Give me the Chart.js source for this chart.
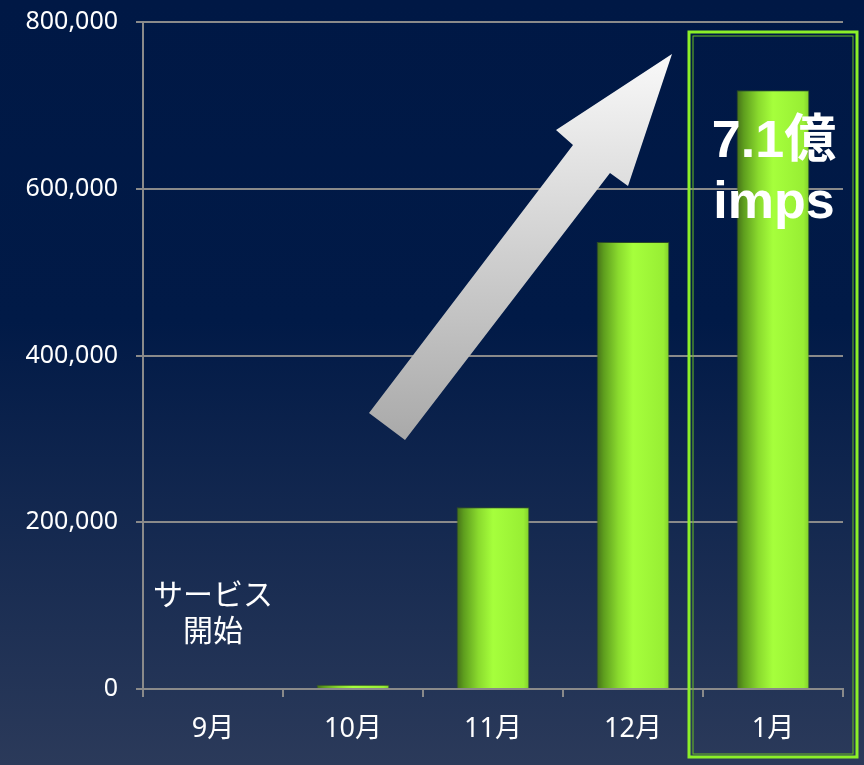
<!DOCTYPE html>
<html lang="ja">
<head>
  <meta charset="UTF-8" />
  <title>imps推移</title>
  <script src="https://cdn.jsdelivr.net/npm/chart.js"></script>
  <style>
    * { margin: 0; padding: 0; box-sizing: border-box; }
    body {
      width: 864px;
      height: 765px;
      overflow: hidden;
      background: linear-gradient(to bottom, #001845 0%, #011a47 42%, #2b3a5a 100%);
    }
    .wrap { position: relative; width: 864px; height: 765px; }
  </style>
</head>
<body>
  <div class="wrap">
    <canvas id="impsChart" width="864" height="765"></canvas>
  </div>

  <script>
    // data
    const months = ['9月', '10月', '11月', '12月', '1月'];
    const imps = [0, 5000, 218000, 536000, 718000];
    const yTicks = [0, 200000, 400000, 600000, 800000];
    const startNote = ['サービス', '開始'];
    const callout = ['7.1億', 'imps'];
    const highlightIndex = 4;

    const JP = '"Noto Sans CJK JP", "Noto Sans", sans-serif';
    const LATIN = '"Noto Sans", "Noto Sans CJK JP", sans-serif';

    // cylinder-ish horizontal gradient for each bar
    function barFill(context) {
      const chart = context.chart;
      const area = chart.chartArea;
      if (!area || !chart.scales.x) return '#9ef23a';
      const xs = chart.scales.x;
      const cx = xs.getPixelForValue(context.dataIndex);
      const half = (xs.width / months.length) * 0.52 / 2;
      const g = chart.ctx.createLinearGradient(cx - half, 0, cx + half, 0);
      g.addColorStop(0, '#456f18');
      g.addColorStop(0.1, '#5e9e1e');
      g.addColorStop(0.3, '#8ada2e');
      g.addColorStop(0.5, '#a6ff3c');
      g.addColorStop(0.92, '#98ee34');
      g.addColorStop(1, '#80cc2a');
      return g;
    }

    const overlay = {
      id: 'overlay',
      afterDatasetsDraw(chart) {
        const { ctx, scales: { x } } = chart;
        ctx.save();

        // big rising arrow
        const g = ctx.createLinearGradient(0, 54, 0, 440);
        g.addColorStop(0, '#f9f9f9');
        g.addColorStop(1, '#a9a9a9');
        ctx.fillStyle = g;
        ctx.beginPath();
        ctx.moveTo(369, 413);
        ctx.lineTo(573, 145);
        ctx.lineTo(556, 130);
        ctx.lineTo(672, 54);
        ctx.lineTo(628, 186);
        ctx.lineTo(610, 173);
        ctx.lineTo(405, 440);
        ctx.closePath();
        ctx.fill();

        // highlight box round the last month
        const cx = x.getPixelForValue(highlightIndex);
        ctx.strokeStyle = '#8cf028';
        ctx.lineWidth = 3;
        ctx.strokeRect(cx - 84, 32, 168, 725);
        ctx.strokeStyle = '#6cbf20';
        ctx.lineWidth = 1;
        ctx.strokeRect(cx - 80, 36, 160, 718);

        // callout text
        ctx.fillStyle = '#ffffff';
        ctx.textAlign = 'center';
        ctx.textBaseline = 'alphabetic';
        ctx.font = 'bold 52px "Liberation Sans", ' + JP;
        ctx.fillText(callout[0], cx + 1, 157);
        ctx.fillText(callout[1], cx + 1, 218);

        // service start note over 9月
        const x0 = x.getPixelForValue(0);
        ctx.font = '30px ' + JP;
        ctx.textBaseline = 'middle';
        ctx.fillText(startNote[0], x0, 594);
        ctx.fillText(startNote[1], x0, 630);

        ctx.restore();
      }
    };

    const ctx = document.getElementById('impsChart').getContext('2d');
    new Chart(ctx, {
      type: 'bar',
      data: {
        labels: months,
        datasets: [{
          label: 'imps',
          data: imps,
          backgroundColor: barFill,
          borderColor: 'rgba(60, 95, 25, 0.7)',
          borderWidth: 1,
          barPercentage: 0.52,
          categoryPercentage: 1.0
        }]
      },
      options: {
        responsive: false,
        animation: false,
        layout: { padding: { top: 22, right: 21, left: 0, bottom: 0 } },
        plugins: {
          legend: { display: false },
          tooltip: { enabled: false }
        },
        scales: {
          x: {
            afterFit: (s) => { s.height = 76; s.paddingLeft = 0; s.paddingRight = 0; },
            grid: {
              display: true,
              offset: true,
              drawOnChartArea: false,
              drawTicks: true,
              tickLength: 8,
              color: '#8a8a8a',
              lineWidth: 2
            },
            border: { display: true, color: '#8a8a8a', width: 2 },
            ticks: {
              color: '#ffffff',
              padding: 16,
              font: { family: LATIN, size: 27 }
            }
          },
          y: {
            min: 0,
            max: 800000,
            afterFit: (s) => { s.width = 143; s.paddingTop = 0; s.paddingBottom = 0; },
            afterBuildTicks: (s) => { s.ticks = yTicks.map(v => ({ value: v })); },
            grid: {
              color: '#8a8a8a',
              lineWidth: 2,
              tickLength: 7
            },
            border: { display: true, color: '#8a8a8a', width: 2 },
            ticks: {
              color: '#ffffff',
              padding: 18,
              font: { family: LATIN, size: 25 },
              callback: (v) => Number(v).toLocaleString('en-US')
            }
          }
        }
      },
      plugins: [overlay]
    });
  </script>
</body>
</html>
